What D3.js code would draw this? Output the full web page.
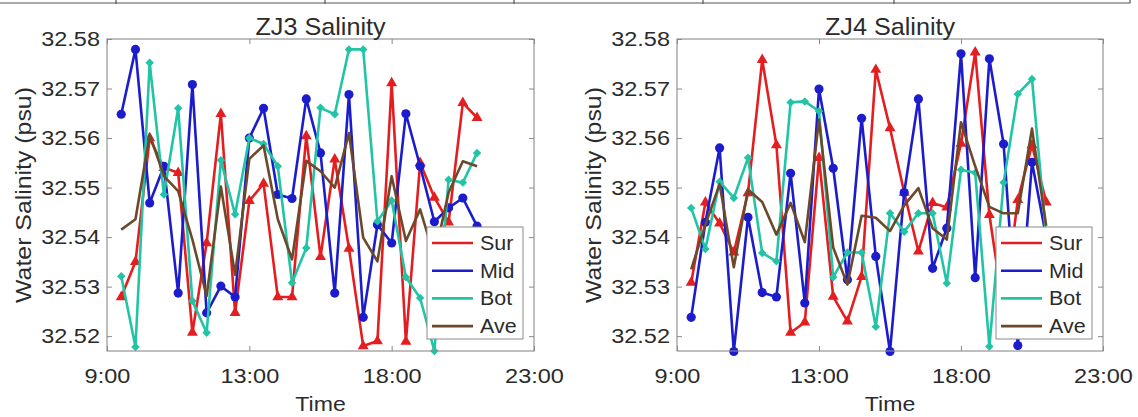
<!DOCTYPE html>
<html>
<head>
<meta charset="utf-8">
<script src="https://cdn.jsdelivr.net/npm/d3@7/dist/d3.min.js"></script>
<style>
	body { margin: 0; background: #ffffff; }
	svg { display: block; }
	text { font-family: "Liberation Sans", Arial, sans-serif; fill: #2b2b2b; }
</style>
</head>
<body>
<svg id="chart"></svg>
<script>
// sample number along the x axis (one sample every step)
var sampleNo = d3.range(1, 27);
var timeTicks = [0, 10, 20, 30];
var timeLabels = ["9:00", "13:00", "18:00", "23:00"];
var salTicks = [32.52, 32.53, 32.54, 32.55, 32.56, 32.57, 32.58];
var seriesNames = ["Sur", "Mid", "Bot", "Ave"];

// ZJ3 station
var zj3Sur = [32.5279, 32.5350, 32.5600, 32.5540, 32.5530, 32.5207, 32.5388, 32.5649, 32.5247, 32.5473, 32.5508, 32.5279, 32.5279,
              32.5604, 32.5360, 32.5557, 32.5377, 32.5180, 32.5190, 32.5711, 32.5189, 32.5550, 32.5480, 32.5430, 32.5671, 32.5641];
var zj3Mid = [32.5648, 32.5779, 32.5469, 32.5543, 32.5287, 32.5708, 32.5247, 32.5301, 32.5279, 32.5600, 32.5660, 32.5486, 32.5478,
              32.5679, 32.5570, 32.5287, 32.5688, 32.5238, 32.5425, 32.5388, 32.5649, 32.5543, 32.5431, 32.5459, 32.5479, 32.5422];
var zj3Bot = [32.5321, 32.5178, 32.5752, 32.5486, 32.5660, 32.5271, 32.5207, 32.5555, 32.5446, 32.5600, 32.5588, 32.5543, 32.5308,
              32.5378, 32.5661, 32.5648, 32.5779, 32.5779, 32.5432, 32.5474, 32.5319, 32.5277, 32.5170, 32.5516, 32.5510, 32.5570];
var zj3Ave = [32.5415, 32.5436, 32.5607, 32.5523, 32.5493, 32.5395, 32.5281, 32.5502, 32.5324, 32.5558, 32.5585, 32.5436, 32.5355,
              32.5554, 32.5533, 32.5500, 32.5610, 32.5399, 32.5351, 32.5523, 32.5392, 32.5456, 32.5360, 32.5490, 32.5553, 32.5543];

// ZJ4 station
var zj4Sur = [32.5308, 32.5470, 32.5428, 32.5369, 32.5489, 32.5758, 32.5586, 32.5207, 32.5228, 32.5560, 32.5280, 32.5230, 32.5320,
              32.5738, 32.5620, 32.5490, 32.5371, 32.5469, 32.5460, 32.5589, 32.5773, 32.5445, 32.5250, 32.5475, 32.5586, 32.5470];
var zj4Mid = [32.5238, 32.5430, 32.5580, 32.5169, 32.5440, 32.5288, 32.5279, 32.5529, 32.5267, 32.5699, 32.5539, 32.5314, 32.5640,
              32.5361, 32.5169, 32.5490, 32.5679, 32.5337, 32.5418, 32.5770, 32.5318, 32.5760, 32.5588, 32.5181, 32.5551, 32.5400];
var zj4Bot = [32.5459, 32.5376, 32.5512, 32.5479, 32.5560, 32.5368, 32.5351, 32.5672, 32.5674, 32.5654, 32.5319, 32.5369, 32.5369,
              32.5219, 32.5448, 32.5411, 32.5448, 32.5448, 32.5307, 32.5536, 32.5530, 32.5179, 32.5510, 32.5689, 32.5719, 32.5400];
var zj4Ave = [32.5335, 32.5425, 32.5507, 32.5339, 32.5496, 32.5471, 32.5405, 32.5469, 32.5390, 32.5637, 32.5379, 32.5304, 32.5443,
              32.5439, 32.5412, 32.5464, 32.5499, 32.5418, 32.5395, 32.5632, 32.5543, 32.5461, 32.5448, 32.5448, 32.5619, 32.5423];

SalPlot = {
	"_svg": null,
	"_width": 1138,
	"_height": 417,
	"_top": 39,
	"_bottom": 351,
	"_colors": ["#e41e20", "#1c1ccc", "#22c4a6", "#6b4a2b"],
	// marker per series, Ave has none
	"_markers": ["triangle", "circle", "diamond", null],
	"_stretch": 1.12,

	"render": function(selector){
		this._svg = d3.select(selector)
					  .attr("width", this._width)
					  .attr("height", this._height);
		this.renderStrip();
		this.renderPanel("ZJ3 Salinity", [zj3Sur, zj3Mid, zj3Bot, zj3Ave], 107, 534, 31);
		this.renderPanel("ZJ4 Salinity", [zj4Sur, zj4Mid, zj4Bot, zj4Ave], 677, 1103, 601);
	},
	// bottom edge of the figure above, cut off by the crop
	"renderStrip": function(){
		var g = this._svg.append("g").attr("class", "strip");
		g.append("path")
		 .attr("d", "M0,3H1130V0")
		 .attr("fill", "none")
		 .attr("stroke", "#555")
		 .attr("stroke-width", 1.2);
		[116, 325, 514, 703, 894].forEach(function(x){
			g.append("line")
			 .attr("x1", x).attr("x2", x)
			 .attr("y1", 0).attr("y2", 4)
			 .attr("stroke", "#555")
			 .attr("stroke-width", 1.2);
		});
	},
	"renderPanel": function(title, series, x0, x1, labelX){
		var that = this;
		var x = d3.scaleLinear().domain([0, 30]).range([x0, x1]);
		var y = d3.scaleLinear().domain([32.517, 32.58]).range([this._bottom, this._top]);
		var g = this._svg.append("g").attr("class", "panel");

		g.append("rect")
		 .attr("x", x0).attr("y", this._top)
		 .attr("width", x1 - x0).attr("height", this._bottom - this._top)
		 .attr("fill", "#ffffff");

		// axes, ticks pointing inward like matlab
		var fmtTime = function(d){ return timeLabels[timeTicks.indexOf(d)]; };
		var axisB = d3.axisBottom(x).tickValues(timeTicks).tickFormat(fmtTime)
					  .tickSizeInner(-5).tickSizeOuter(0).tickPadding(17);
		var axisT = d3.axisTop(x).tickValues(timeTicks).tickFormat("")
					  .tickSizeInner(-5).tickSizeOuter(0);
		var axisL = d3.axisLeft(y).tickValues(salTicks).tickFormat(d3.format(".2f"))
					  .tickSizeInner(-5).tickSizeOuter(0).tickPadding(7);
		var axisR = d3.axisRight(y).tickValues(salTicks).tickFormat("")
					  .tickSizeInner(-5).tickSizeOuter(0);

		var gb = g.append("g").attr("transform", "translate(0," + this._bottom + ")").call(axisB);
		var gt = g.append("g").attr("transform", "translate(0," + this._top + ")").call(axisT);
		var gl = g.append("g").attr("transform", "translate(" + x0 + ",0)").call(axisL);
		var gr = g.append("g").attr("transform", "translate(" + x1 + ",0)").call(axisR);

		[gb, gt, gl, gr].forEach(function(a){
			a.select(".domain").remove();
			a.selectAll(".tick line").attr("stroke", "#8a8a8a").attr("stroke-width", 1);
			a.selectAll(".tick text")
			 .attr("font-family", "Liberation Sans, Arial, sans-serif")
			 .attr("font-size", 21)
			 .attr("fill", "#2b2b2b")
			 .attr("transform", "scale(" + that._stretch + ",1)");
		});
		gl.selectAll(".tick text").attr("x", -7 / this._stretch);

		// series lines and markers
		var line = d3.line()
					 .x(function(d, i){ return x(sampleNo[i]); })
					 .y(function(d){ return y(d); });

		series.forEach(function(vals, k){
			g.append("path")
			 .attr("d", line(vals))
			 .attr("fill", "none")
			 .attr("stroke", that._colors[k])
			 .attr("stroke-width", 2.6)
			 .attr("stroke-linejoin", "round");

			var mk = that._markers[k];
			if(!mk) return;
			var sym;
			if(mk === "circle"){ sym = d3.symbol().type(d3.symbolCircle).size(66); }
			else if(mk === "triangle"){ sym = d3.symbol().type(d3.symbolTriangle).size(52); }
			else { sym = d3.symbol().type(d3.symbolSquare).size(36); }

			g.selectAll(null)
			 .data(vals)
			 .enter()
			 .append("path")
			 .attr("d", sym)
			 .attr("transform", function(d, i){
				 var t = "translate(" + x(sampleNo[i]) + "," + y(d) + ")";
				 return mk === "diamond" ? t + " rotate(45)" : t;
			 })
			 .attr("fill", that._colors[k]);
		});

		// box
		g.append("rect")
		 .attr("x", x0).attr("y", this._top)
		 .attr("width", x1 - x0).attr("height", this._bottom - this._top)
		 .attr("fill", "none")
		 .attr("stroke", "#8a8a8a")
		 .attr("stroke-width", 1.1);

		// title and axis labels
		g.append("text")
		 .attr("transform", "translate(" + (x0 + x1) / 2 + ",35) scale(1.05,1)")
		 .attr("text-anchor", "middle")
		 .attr("font-size", 24)
		 .text(title);

		g.append("text")
		 .attr("transform", "translate(" + (x0 + x1) / 2 + ",411) scale(1.1,1)")
		 .attr("text-anchor", "middle")
		 .attr("font-size", 21)
		 .text("Time");

		g.append("text")
		 .attr("transform", "translate(" + labelX + "," + (this._top + this._bottom) / 2 + ") rotate(-90) scale(1.13,1)")
		 .attr("text-anchor", "middle")
		 .attr("font-size", 22)
		 .text("Water Salinity (psu)");

		this.renderLegend(g, x1 - 107, 227);
	},
	"renderLegend": function(g, lx, ly){
		var that = this;
		var lg = g.append("g").attr("class", "legend");
		lg.append("rect")
		  .attr("x", lx).attr("y", ly)
		  .attr("width", 96).attr("height", 112)
		  .attr("fill", "#ffffff")
		  .attr("stroke", "#8a8a8a")
		  .attr("stroke-width", 1);

		seriesNames.forEach(function(name, k){
			var ry = ly + 16 + k * 27.7;
			lg.append("line")
			  .attr("x1", lx + 5).attr("x2", lx + 46)
			  .attr("y1", ry).attr("y2", ry)
			  .attr("stroke", that._colors[k])
			  .attr("stroke-width", 2.6);
			lg.append("text")
			  .attr("transform", "translate(" + (lx + 53) + "," + (ry + 7) + ") scale(1.1,1)")
			  .attr("font-size", 19.5)
			  .text(name);
		});
	}
};

SalPlot.render("#chart");
</script>
</body>
</html>
